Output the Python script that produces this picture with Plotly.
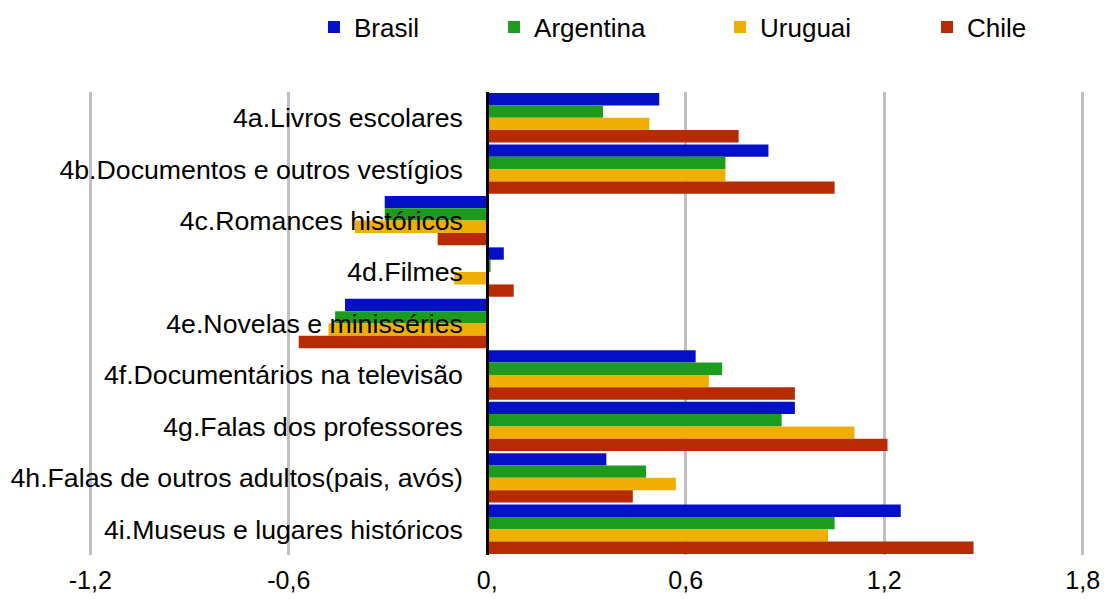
import plotly.graph_objects as go

categorias = ['4a.Livros escolares', '4b.Documentos e outros vestígios', '4c.Romances históricos',
              '4d.Filmes', '4e.Novelas e minisséries', '4f.Documentários na televisão',
              '4g.Falas dos professores', '4h.Falas de outros adultos(pais, avós)',
              '4i.Museus e lugares históricos']

brasil = [0.52, 0.85, -0.31, 0.05, -0.43, 0.63, 0.93, 0.36, 1.25]
argentina = [0.35, 0.72, -0.31, 0.01, -0.46, 0.71, 0.89, 0.48, 1.05]
uruguai = [0.49, 0.72, -0.40, -0.10, -0.48, 0.67, 1.11, 0.57, 1.03]
chile = [0.76, 1.05, -0.15, 0.08, -0.57, 0.93, 1.21, 0.44, 1.47]

tick_vals = [-1.2, -0.6, 0, 0.6, 1.2, 1.8]
tick_text = ['-1,2', '-0,6', '0,', '0,6', '1,2', '1,8']

series = [('Brasil', brasil, '#0410C8'),
          ('Argentina', argentina, '#1C9C1C'),
          ('Uruguai', uruguai, '#F0AE00'),
          ('Chile', chile, '#B82A02')]

# cada serie tem a sua propria legenda, para imitar o espaçamento do Excel
legend_x = [0.2844, 0.4475, 0.6522, 0.8397]
legend_ids = ['legend', 'legend2', 'legend3', 'legend4']

fig = go.Figure()
for (nome, valores, cor), lid in zip(series, legend_ids):
    fig.add_trace(go.Bar(x=valores, y=categorias, name=nome, orientation='h', legend=lid,
                         showlegend=True, marker=dict(color=cor, line=dict(width=0))))

leg = {}
for lid, lx in zip(legend_ids, legend_x):
    leg[lid] = dict(orientation='h', xref='container', yref='container', x=lx, xanchor='left',
                    y=1 - 27 / 599, yanchor='middle', itemwidth=30, font=dict(size=26),
                    bgcolor='rgba(0,0,0,0)')

fig.update_layout(
    barmode='group', bargap=0.04, bargroupgap=0,
    width=1104, height=599, showlegend=True,
    margin=dict(l=89, r=20, t=92, b=44, autoexpand=False),
    plot_bgcolor='white', paper_bgcolor='white',
    font=dict(family='Liberation Sans, Arial, sans-serif', size=26, color='#000000'),
    **leg
)

fig.update_xaxes(range=[-1.204, 1.804], tickvals=tick_vals, ticktext=tick_text,
                 showgrid=True, gridcolor='#C0C0C0', gridwidth=3,
                 zeroline=False, showline=False, ticks='', automargin=False,
                 ticklabelstandoff=8, tickfont=dict(size=25))
fig.update_yaxes(autorange='reversed', anchor='free', position=1.204 / 3.008,
                 showline=True, linecolor='#000000', linewidth=3, automargin=False,
                 showgrid=False, ticks='', ticklabelstandoff=18,
                 tickfont=dict(size=26.7))

# tira a margem padrao do body para a figura ocupar a janela inteira
fig.write_html("out.html", config={'displayModeBar': False},
               post_script="document.body.style.margin='0';document.body.style.overflow='hidden';")
